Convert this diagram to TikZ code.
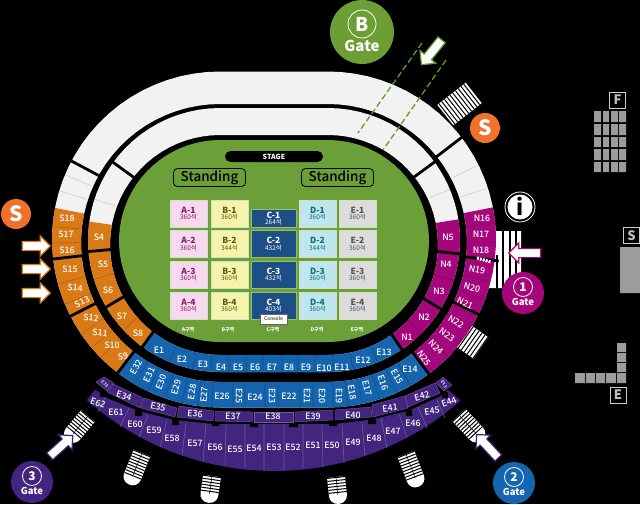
\documentclass[tikz,border=0pt]{standalone}
\usepackage{fontspec}
\setmainfont{Noto Sans CJK KR}
\newfontfamily\medfont{Noto Sans CJK KR Medium}
\usepackage{xcolor}
\usepackage{tikz}
\usetikzlibrary{shapes, arrows}

\definecolor{fieldgreen}{HTML}{6B9F37}
\definecolor{gategreen}{HTML}{6C9E33}
\definecolor{dashgreen}{HTML}{5FA02A}
\definecolor{bandwhite}{HTML}{F2F2F2}
\definecolor{bandline}{HTML}{CDCDCD}
\definecolor{sorange}{HTML}{D97A17}
\definecolor{sorangeline}{HTML}{B5620F}
\definecolor{eblue}{HTML}{1565AE}
\definecolor{eblueline}{HTML}{0E4E8A}
\definecolor{nmagenta}{HTML}{A6067C}
\definecolor{nmagentaline}{HTML}{82045F}
\definecolor{epurple}{HTML}{43257F}
\definecolor{epurpleline}{HTML}{6F5A9E}
\definecolor{arrowpurple}{HTML}{3A2278}
\definecolor{sround}{HTML}{F0702C}
\definecolor{gateblue}{HTML}{1566B0}
\definecolor{blockgrey}{HTML}{9C9C9C}
\definecolor{pinkA}{HTML}{F6D9EE}
\definecolor{yellowB}{HTML}{F6F4AC}
\definecolor{navyC}{HTML}{1C4F85}
\definecolor{cyanD}{HTML}{BFE5EE}
\definecolor{greyE}{HTML}{DCDCDC}
\definecolor{textA}{HTML}{8A1A6A}
\definecolor{textB}{HTML}{5C5A10}
\definecolor{textD}{HTML}{0E7272}
\definecolor{textE}{HTML}{555555}

\newcommand{\fsz}[1]{\fontsize{#1}{#1}\selectfont}
% rounded oval with half straight 54 round x=274
\newcommand{\stadium}[2]{plot[domain=90:270,samples=40] ({220+#1*cos(\x)},{#2+#1*sin(\x)}) -- plot[domain=270:450,samples=40] ({328+#1*cos(\x)},{#2+#1*sin(\x)}) -- cycle}
\newcommand{\innerband}[1]{\fill[#1,even odd rule] \stadium{132}{240} \stadium{110}{245};}
\newcommand{\outerband}[1]{\fill[#1,even odd rule] \stadium{168}{239.5} \stadium{139}{243};}
\newcommand{\spoke}[4]{(#1,240) ++(#2:#3) -- ++(#2:#4)}
% white stairs with a round end
\newcommand{\stairtab}[4]{
    \begin{scope}[shift={(#1,#2)},rotate=#3]
        \fill[white] (-9,0) -- (9,0) [rounded corners=8.5pt] -- (9,#4) -- (-9,#4) [sharp corners] -- cycle;
        \draw[black,line width=18pt,dash pattern=on 1pt off 2pt] (0,0) -- (0,#4-9);
        \draw[black,line width=.5pt] (0,0) -- (0,#4-9);
    \end{scope}
}
% white stairs, plain strip
\newcommand{\stairstrip}[6]{
    \begin{scope}[shift={(#1,#2)},rotate=#3]
        \fill[white] (-#4/2,-#5/2) rectangle (#4/2,#5/2);
        \draw[black,line width=#5pt,dash pattern=on 1pt off #6pt] (-#4/2+1.5,0) -- (#4/2,0);
    \end{scope}
}

\begin{document}
\begin{tikzpicture}[x=1pt,y=-1pt,
      seclabel/.style={text=white,font=\medfont\fsz{8.8},inner sep=0pt,text height=6.4pt,text depth=0pt},
      smalllabel/.style={text=white,font=\medfont\fsz{4.5},inner sep=0pt,text height=3.3pt,text depth=0pt},
      seatbox/.style={minimum width=37pt,minimum height=27pt,inner sep=0pt,align=center,draw=white!70!fieldgreen,line width=.6pt,font=\fsz{6.5}},
      seatnavy/.style={seatbox,minimum width=45pt,fill=navyC,text=white,draw=fieldgreen!70!white},
      zonelabel/.style={text=white,font=\bfseries\fsz{5},inner sep=0pt,text height=3.8pt,text depth=0pt},
      standbox/.style={draw=black,rounded corners=4pt,line width=.8pt,minimum width=72pt,minimum height=18pt,inner sep=0pt,font=\medfont\fsz{13.5},text=black,text height=10pt,text depth=3pt},
      gateround/.style={circle,inner sep=0pt,minimum size=42pt},
      gatenum/.style={circle,draw=white,line width=.8pt,inner sep=0pt,minimum size=19pt,text=white,font=\bfseries\fsz{12},text height=8.8pt,text depth=0pt},
      gatetext/.style={text=white,font=\bfseries\fsz{9.5},inner sep=0pt,text height=7pt,text depth=2pt},
      sround/.style={circle,fill=sround,text=white,inner sep=0pt,minimum size=30pt,font=\bfseries\fsz{21},text height=15.4pt,text depth=0pt},
      gatearrow/.style={single arrow,fill=white,line width=1.2pt,inner xsep=0pt,inner ysep=4pt,minimum height=#1,single arrow head extend=5.5pt},
      lettersq/.style={draw=white!80!black,line width=.7pt,text=white!75!black,inner sep=0pt,minimum size=16pt,font=\bfseries\fsz{13},text height=9.5pt,text depth=0pt},
      purplecell/.style={fill=epurple,draw=epurpleline,line width=.4pt},
      blackline/.style={black,line width=3.5pt},
    ]
    \useasboundingbox (0,0) rectangle (640,504);
    \fill[black] (0,0) rectangle (640,504);

    % field
    \fill[fieldgreen] \stadium{101}{241};

    % stairs behind the rings
    \fill[white] (496,231) -- (521,231) -- (521,275) -- (505,288) -- (486,288) -- cycle;
    \draw[black,line width=1.2pt] (503,231) -- (503,288) (510,231) -- (510,288) (516,231) -- (516,288) (497,255) -- (497,288);
    \stairstrip{459.5}{104}{38}{36}{26}{2.5}
    \stairstrip{471}{341}{-35}{24}{26}{2.6}
    \stairtab{142}{453}{-22}{34}
    \stairtab{212}{476}{-8}{27}
    \stairtab{336}{477}{6}{27}
    \stairtab{406}{454}{21}{35}
    \stairtab{459}{415}{43}{34}
    \stairtab{88}{416}{-40}{32}

    % rings
    \innerband{bandwhite}
    \outerband{bandwhite}
    \begin{scope}
        \clip (220,240) -- +(188:300) -- +(126:300) -- cycle;
        \innerband{sorange}
    \end{scope}
    \begin{scope}
        \clip (220,240) -- +(191:300) -- +(127.6:300) -- cycle;
        \outerband{sorange}
    \end{scope}
    \begin{scope}
        \clip (328,240) -- +(351:300) -- +(56:300) -- cycle;
        \innerband{nmagenta}
    \end{scope}
    \begin{scope}
        \clip (328,240) -- +(348.8:300) -- +(53:300) -- cycle;
        \outerband{nmagenta}
    \end{scope}
    \begin{scope}
        \clip (220,240) -- (44,483) -- (496,489) -- (328,240) -- cycle;
        \innerband{eblue}
    \end{scope}
    \begin{scope}
        \clip (220,240) -- (37,478) -- (508.5,480) -- (328,240) -- cycle;
        \outerband{eblue}
    \end{scope}

    % dividers
    \draw[bandline,line width=.6pt]
        \spoke{220}{198}{110}{22}
        \spoke{220}{197}{140}{27}
        \spoke{220}{202.8}{140}{27}
        \spoke{328}{337.5}{110}{22}
        \spoke{328}{333.5}{140}{27}
        \spoke{328}{342}{140}{27}
    ;
    \draw[sorangeline,line width=.6pt]
        \spoke{220}{162.6}{110}{22}
        \spoke{220}{137}{113}{19}
        \spoke{220}{184.6}{140}{27}
        \spoke{220}{179}{140}{27}
        \spoke{220}{164.8}{140}{27}
        \spoke{220}{157.5}{140}{27}
        \spoke{220}{146}{140}{27}
        \spoke{220}{140}{140}{27}
        \spoke{220}{135.5}{140}{27}
    ;
    \draw[nmagentaline,line width=.6pt]
        \spoke{328}{18}{110}{22}
        \spoke{328}{45}{113}{19}
        \spoke{328}{354.3}{140}{27}
        \spoke{328}{0.8}{140}{27}
        \spoke{328}{14.5}{140}{27}
        \spoke{328}{21}{140}{27}
        \spoke{328}{32}{140}{27}
        \spoke{328}{38.5}{140}{27}
        \spoke{328}{44}{140}{27}
    ;
    \draw[eblueline,line width=.6pt]
        \spoke{220}{112.5}{116}{16}
        \spoke{220}{102}{115}{17}
        \spoke{220}{94}{115}{17}
        (229,355) -- (229,372)
        (246,355) -- (246,372)
        (263,355) -- (263,372)
        (282,355) -- (282,372)
        (298,355) -- (298,372)
        (315,355) -- (315,372)
        (333,355) -- (333,372)
        \spoke{328}{79}{115}{17}
        \spoke{328}{68}{116}{16}
        \spoke{220}{120.7}{141}{26}
        \spoke{220}{115.5}{141}{26}
        \spoke{220}{109.3}{141}{26}
        \spoke{220}{103.2}{141}{26}
        \spoke{220}{97.8}{141}{26}
        \spoke{220}{92.8}{142}{25}
        (233,383) -- (233,407)
        (245,383) -- (245,407)
        (265,383) -- (265,407)
        (278,383) -- (278,407)
        (300,383) -- (300,407)
        (313,383) -- (313,407)
        (333,383) -- (333,407)
        \spoke{328}{83}{142}{25}
        \spoke{328}{78}{142}{25}
        \spoke{328}{72}{141}{26}
        \spoke{328}{65.8}{141}{26}
        \spoke{328}{60.5}{141}{26}
    ;
    \draw[blackline,line width=2.8pt]
        \spoke{220}{216}{105}{30}
        \spoke{220}{175}{105}{30}
        \spoke{220}{149.5}{105}{30}
        \spoke{220}{126}{105}{30}
        \spoke{220}{208}{136}{36}
        \spoke{220}{173.5}{136}{36}
        \spoke{220}{153}{136}{36}
        \spoke{220}{127.6}{136}{36}
        \spoke{328}{323.8}{105}{30}
        \spoke{328}{6}{105}{30}
        \spoke{328}{31.5}{105}{30}
        \spoke{328}{56}{105}{30}
        \spoke{328}{322.5}{136}{36}
        \spoke{328}{7}{136}{36}
        \spoke{328}{26.3}{136}{36}
        \spoke{328}{53}{136}{36}
    ;
    \draw[white,line width=3pt,dash pattern=on 2pt off 1pt] (477,258) -- (491,262);

    % purple front block
    \fill[epurple] (87,400) -- (95,390) -- (100,393) -- (108,398.5) -- (140,411.5) -- (175,420) -- (213,424) -- (335,424) -- (372,419.5) -- (408,411) -- (440,396.5) -- (448,390) -- (460,400) -- plot[domain=48.6:131.5,samples=40] ({274+282*cos(\x)},{189+282*sin(\x)}) -- cycle;
    \fill[black]
        (100,392) rectangle (105,397)
        (135,410) rectangle (142,416)
        (172,418) rectangle (179,425)
        (212,422) rectangle (219,426)
        (250,422) rectangle (258,427)
        (289,422) rectangle (298,427)
        (329,422) rectangle (337,426)
        (368,419) rectangle (376,424)
        (406,410) rectangle (412,416)
        (442,392) rectangle (448,398)
    ;
    \draw[epurpleline,line width=.6pt]
        (105,398) -- (98,412)
        (129,408) -- (120,427)
        (148,415) -- (139,437)
        (167,420) -- (160,447)
        (186,423) -- (182,455)
        (206,424) -- (203,462)
        (226,424) -- (225,465)
        (245,424) -- (245,468)
        (264,424) -- (264,470)
        (284,424) -- (284,470)
        (303,424) -- (303,468)
        (322,424) -- (323,467)
        (342,423) -- (344,463)
        (362,422) -- (365,456)
        (381,418) -- (387,448)
        (399,414) -- (407,438)
        (418,407) -- (427,428)
        (437,400) -- (445,418)
    ;
    \draw[purplecell] (107,392) -- (111,383) -- (143,398) -- (140,408) -- cycle;
    \draw[purplecell] (141,408) -- (144,398) -- (177,408) -- (175,417) -- cycle;
    \draw[purplecell] (177,417) -- (179,406) -- (214,411) -- (213,421) -- cycle;
    \draw[purplecell] (215,421) -- (215,411) -- (253,412) -- (253,422) -- cycle;
    \draw[purplecell] (254,422) -- (254,412) -- (293,412) -- (293,422) -- cycle;
    \draw[purplecell] (295,422) -- (295,412) -- (333,410) -- (333,420) -- cycle;
    \draw[purplecell] (335,420) -- (335,410) -- (371,407) -- (372,417) -- cycle;
    \draw[purplecell] (373,417) -- (372,405) -- (405,396) -- (408,408) -- cycle;
    \draw[purplecell] (408,407) -- (405,396) -- (435,383) -- (440,393) -- cycle;
    \draw[purplecell] (436,383) -- (443,377) -- (452,385) -- (444,391) -- cycle;
    \draw[purplecell] (96,382) -- (104,377) -- (114,383) -- (107,391) -- cycle;

    % stage and standing
    \node[fill=black,rounded corners=5.5pt,minimum width=98pt,minimum height=11pt,inner sep=0pt,text=white,font=\bfseries\fsz{7},text height=5pt,text depth=0pt] (stage) at (274,156.5) {STAGE};
    \node[standbox] (standleft) at (209.5,177.5) {Standing};
    \node[standbox] (standright) at (337.5,177.5) {Standing};

    % seat blocks
    \node[seatbox,fill=pinkA,text=textA] (blockA1) at (188.5,213.5) {{\bfseries\fsz{8.5}A-1}\\360석};
    \node[seatbox,fill=pinkA,text=textA] (blockA2) at (188.5,244) {{\bfseries\fsz{8.5}A-2}\\360석};
    \node[seatbox,fill=pinkA,text=textA] (blockA3) at (188.5,274.5) {{\bfseries\fsz{8.5}A-3}\\360석};
    \node[seatbox,fill=pinkA,text=textA] (blockA4) at (188.5,305.5) {{\bfseries\fsz{8.5}A-4}\\360석};
    \node[seatbox,fill=yellowB,text=textB] (blockB1) at (229.5,213.5) {{\bfseries\fsz{8.5}B-1}\\360석};
    \node[seatbox,fill=yellowB,text=textB] (blockB2) at (229.5,244) {{\bfseries\fsz{8.5}B-2}\\344석};
    \node[seatbox,fill=yellowB,text=textB] (blockB3) at (229.5,274.5) {{\bfseries\fsz{8.5}B-3}\\360석};
    \node[seatbox,fill=yellowB,text=textB] (blockB4) at (229.5,305.5) {{\bfseries\fsz{8.5}B-4}\\360석};
    \node[seatnavy,minimum height=18pt] (blockC1) at (273.5,218.5) {{\bfseries\fsz{8.5}C-1}\\264석};
    \node[seatnavy] (blockC2) at (273.5,244) {{\bfseries\fsz{8.5}C-2}\\432석};
    \node[seatnavy] (blockC3) at (273.5,274.5) {{\bfseries\fsz{8.5}C-3}\\432석};
    \node[seatnavy] (blockC4) at (273.5,305.5) {{\bfseries\fsz{8.5}C-4}\\403석};
    \node[seatbox,fill=cyanD,text=textD] (blockD1) at (317.5,213.5) {{\bfseries\fsz{8.5}D-1}\\360석};
    \node[seatbox,fill=cyanD,text=textD] (blockD2) at (317.5,244) {{\bfseries\fsz{8.5}D-2}\\344석};
    \node[seatbox,fill=cyanD,text=textD] (blockD3) at (317.5,274.5) {{\bfseries\fsz{8.5}D-3}\\360석};
    \node[seatbox,fill=cyanD,text=textD] (blockD4) at (317.5,305.5) {{\bfseries\fsz{8.5}D-4}\\360석};
    \node[seatbox,fill=greyE,text=textE] (blockE1) at (357.5,213.5) {{\bfseries\fsz{8.5}E-1}\\360석};
    \node[seatbox,fill=greyE,text=textE] (blockE2) at (357.5,244) {{\bfseries\fsz{8.5}E-2}\\360석};
    \node[seatbox,fill=greyE,text=textE] (blockE3) at (357.5,274.5) {{\bfseries\fsz{8.5}E-3}\\360석};
    \node[seatbox,fill=greyE,text=textE] (blockE4) at (357.5,305.5) {{\bfseries\fsz{8.5}E-4}\\360석};
    \node[fill=white,draw=black!60,line width=.3pt,minimum width=27pt,minimum height=10pt,inner sep=0pt,text=black,font=\fsz{5},text height=3.8pt,text depth=0pt] (console) at (273.5,319) {Console};
    \node[zonelabel] (zoneA) at (188,330) {A구역};
    \node[zonelabel] (zoneB) at (228,330) {B구역};
    \node[zonelabel] (zoneC) at (273,330) {C구역};
    \node[zonelabel] (zoneD) at (317,330) {D구역};
    \node[zonelabel] (zoneE) at (357,330) {E구역};

    % S labels
    \node[seclabel] (S18) at (67,218) {S18};
    \node[seclabel] (S17) at (66,234) {S17};
    \node[seclabel] (S16) at (67,250) {S16};
    \node[seclabel] (S15) at (70,269) {S15};
    \node[seclabel,rotate=-5] (S14) at (75,288) {S14};
    \node[seclabel,rotate=25] (S13) at (82,302) {S13};
    \node[seclabel,rotate=-5] (S12) at (91,318) {S12};
    \node[seclabel,rotate=-5] (S11) at (100,333) {S11};
    \node[seclabel] (S10) at (112,345) {S10};
    \node[seclabel,rotate=10] (S9) at (123,356) {S9};
    \node[seclabel] (S4) at (99,237) {S4};
    \node[seclabel] (S5) at (103,264) {S5};
    \node[seclabel] (S6) at (108,290) {S6};
    \node[seclabel] (S7) at (122,316) {S7};
    \node[seclabel] (S8) at (138,333) {S8};

    % N labels
    \node[seclabel] (N16) at (482,218) {N16};
    \node[seclabel] (N17) at (481,234) {N17};
    \node[seclabel] (N18) at (481,250) {N18};
    \node[seclabel,rotate=-10] (N19) at (477,270) {N19};
    \node[seclabel,rotate=-15] (N20) at (472,288) {N20};
    \node[seclabel,rotate=-25] (N21) at (465,303) {N21};
    \node[seclabel,rotate=-30] (N22) at (456,322) {N22};
    \node[seclabel,rotate=-35] (N23) at (447,335) {N23};
    \node[seclabel,rotate=-45] (N24) at (436,347) {N24};
    \node[seclabel,rotate=-55] (N25) at (424,358) {N25};
    \node[seclabel] (N5) at (448,237) {N5};
    \node[seclabel] (N4) at (446,264) {N4};
    \node[seclabel] (N3) at (439,291) {N3};
    \node[seclabel] (N2) at (424,317) {N2};
    \node[seclabel] (N1) at (407,337) {N1};

    % E labels, inner blue
    \node[seclabel] (E1) at (159,350) {E1};
    \node[seclabel] (E2) at (182,359) {E2};
    \node[seclabel] (E3) at (203,364) {E3};
    \node[seclabel] (E4) at (221,367) {E4};
    \node[seclabel] (E5) at (238,367) {E5};
    \node[seclabel] (E6) at (255,367) {E6};
    \node[seclabel] (E7) at (272,367) {E7};
    \node[seclabel] (E8) at (289,367) {E8};
    \node[seclabel] (E9) at (306,367) {E9};
    \node[seclabel] (E10) at (324,368) {E10};
    \node[seclabel] (E11) at (342,367) {E11};
    \node[seclabel] (E12) at (363,360) {E12};
    \node[seclabel] (E13) at (384,352) {E13};
    % E labels, outer blue
    \node[seclabel] (E14) at (410,369) {E14};
    \node[seclabel,rotate=-60] (E15) at (397,377) {E15};
    \node[seclabel,rotate=-70] (E16) at (383,383) {E16};
    \node[seclabel,rotate=-75] (E17) at (367,388) {E17};
    \node[seclabel,rotate=-80] (E18) at (352,392) {E18};
    \node[seclabel,rotate=-90] (E19) at (339,396) {E19};
    \node[seclabel,rotate=-90] (E20) at (322,396) {E20};
    \node[seclabel,rotate=-90] (E21) at (307,396) {E21};
    \node[seclabel] (E22) at (289,396) {E22};
    \node[seclabel,rotate=-90] (E23) at (272,396) {E23};
    \node[seclabel] (E24) at (255,397) {E24};
    \node[seclabel,rotate=-90] (E25) at (239,396) {E25};
    \node[seclabel] (E26) at (222,396) {E26};
    \node[seclabel,rotate=85] (E27) at (204,395) {E27};
    \node[seclabel,rotate=80] (E28) at (192,392) {E28};
    \node[seclabel,rotate=75] (E29) at (176,387) {E29};
    \node[seclabel,rotate=70] (E30) at (161,382) {E30};
    \node[seclabel,rotate=65] (E31) at (149,375) {E31};
    \node[seclabel,rotate=60] (E32) at (136,367) {E32};
    % E labels, purple
    \node[smalllabel,rotate=-40] (E33) at (105,384) {E33};
    \node[seclabel,rotate=-18] (E34) at (124,396) {E34};
    \node[seclabel,rotate=-12] (E35) at (158,407) {E35};
    \node[seclabel,rotate=-5] (E36) at (195,414) {E36};
    \node[seclabel] (E37) at (233,416) {E37};
    \node[seclabel] (E38) at (273,416) {E38};
    \node[seclabel] (E39) at (313,416) {E39};
    \node[seclabel] (E40) at (353,415) {E40};
    \node[seclabel,rotate=8] (E41) at (390,408) {E41};
    \node[seclabel,rotate=15] (E42) at (422,396) {E42};
    \node[smalllabel,rotate=-60] (E43) at (444,384) {E43};
    \node[seclabel,rotate=20] (E44) at (449,402) {E44};
    \node[seclabel,rotate=8] (E45) at (432,411) {E45};
    \node[seclabel] (E46) at (413,423) {E46};
    \node[seclabel] (E47) at (393,431) {E47};
    \node[seclabel] (E48) at (374,438) {E48};
    \node[seclabel] (E49) at (353,442) {E49};
    \node[seclabel] (E50) at (332,445) {E50};
    \node[seclabel] (E51) at (313,445) {E51};
    \node[seclabel] (E52) at (293,447) {E52};
    \node[seclabel] (E53) at (274,447) {E53};
    \node[seclabel] (E54) at (254,448) {E54};
    \node[seclabel] (E55) at (235,449) {E55};
    \node[seclabel] (E56) at (215,447) {E56};
    \node[seclabel] (E57) at (195,443) {E57};
    \node[seclabel] (E58) at (172,438) {E58};
    \node[seclabel] (E59) at (154,430) {E59};
    \node[seclabel] (E60) at (135,424) {E60};
    \node[seclabel] (E61) at (116,412) {E61};
    \node[seclabel,rotate=-20] (E62) at (98,403) {E62};

    % dashed way from gate B
    \coordinate (dashA1) at (422,43);
    \coordinate (dashA2) at (358,133);
    \coordinate (dashB1) at (446,60);
    \coordinate (dashB2) at (383,150);
    \draw[dashgreen,line width=1.3pt,dash pattern=on 6pt off 3pt] (dashA1) -- (dashA2);
    \draw[dashgreen,line width=1.3pt,dash pattern=on 6pt off 3pt] (dashB1) -- (dashB2);

    % arrows
    \node[gatearrow=28pt,draw=sorange] (arrowS1) at (34,246) {};
    \node[gatearrow=28pt,draw=sorange] (arrowS2) at (34,269) {};
    \node[gatearrow=28pt,draw=sorange] (arrowS3) at (34,293) {};
    \node[gatearrow=32pt,draw=nmagenta,rotate=180] (arrow1) at (527,253) {};
    \node[gatearrow=32pt,draw=arrowpurple,rotate=133] (arrow2) at (489,448) {};
    \node[gatearrow=31pt,draw=arrowpurple,rotate=42] (arrow3) at (59.5,447.5) {};
    \node[gatearrow=32pt,draw=dashgreen,rotate=231] (arrowB) at (433,50.5) {};

    % gates
    \node[gateround,fill=gategreen,minimum size=64pt] (gateB) at (362,32) {};
    \node[gatenum,minimum size=28pt,font=\bfseries\fsz{19},text height=14pt] (numB) at (362,24) {B};
    \node[gatetext,font=\bfseries\fsz{15},text height=11pt,text depth=3pt] (textB) at (362,47) {Gate};
    \node[gateround,fill=nmagenta] (gate1) at (523,293) {};
    \node[gatenum] (num1) at (523,287) {1};
    \node[gatetext] (text1) at (523,303) {Gate};
    \node[gateround,fill=gateblue] (gate2) at (514,483) {};
    \node[gatenum] (num2) at (514,477) {2};
    \node[gatetext] (text2) at (514,493) {Gate};
    \node[gateround,fill=epurple] (gate3) at (32,482) {};
    \node[gatenum] (num3) at (32,476) {3};
    \node[gatetext] (text3) at (32,492) {Gate};

    \node[sround] (roundS1) at (16,214) {S};
    \node[sround] (roundS2) at (485,128) {S};

    % info mark
    \node[circle,draw=white,line width=.8pt,minimum size=30pt,inner sep=0pt] (inforing) at (520,207) {};
    \node[circle,fill=white,minimum size=25pt,inner sep=0pt,text=black,font=\bfseries\fsz{22},text height=16pt,text depth=0pt] (info) at (520,207) {i};

    % blocks at the far side
    \fill[blockgrey]
        (594,111) rectangle (601,122) (603,111) rectangle (609,122) (611,111) rectangle (618,122) (619,111) rectangle (626,122)
        (594,124) rectangle (601,135) (603,124) rectangle (609,135) (611,124) rectangle (618,135) (619,124) rectangle (626,135)
        (594,137) rectangle (601,147) (603,137) rectangle (609,147) (611,137) rectangle (618,147) (619,137) rectangle (626,147)
        (594,149) rectangle (601,160) (603,149) rectangle (609,160) (611,149) rectangle (618,160) (619,149) rectangle (626,160)
        (594,162) rectangle (601,172) (603,162) rectangle (609,172) (611,162) rectangle (618,172) (619,162) rectangle (626,172)
        (620,247) rectangle (640,293)
        (617,343) rectangle (626,352)
        (617,353) rectangle (626,362)
        (617,363) rectangle (626,372)
        (575,373) rectangle (585,383) (586,373) rectangle (595,383) (596,373) rectangle (605,383) (606,373) rectangle (616,383) (617,373) rectangle (626,383)
    ;
    \node[lettersq] (letterF) at (617.5,100) {F};
    \node[lettersq] (letterS) at (631.5,235.5) {S};
    \node[lettersq] (letterE) at (618,395) {E};
\end{tikzpicture}
\end{document}
